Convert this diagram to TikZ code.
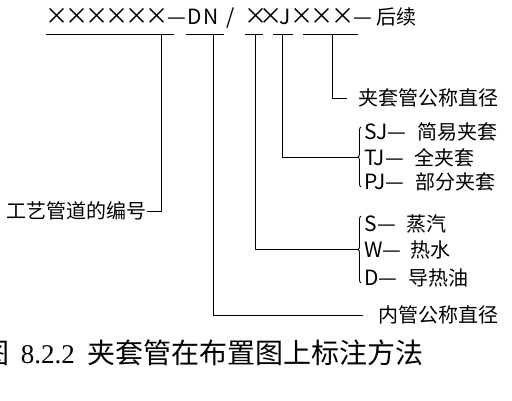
\documentclass[tikz,border=0pt]{standalone}
\usepackage{fontspec}
\setmainfont{Liberation Serif}
\newfontfamily\cjk{Noto Sans CJK SC}
\usetikzlibrary{decorations.pathreplacing}
\newcommand{\cb}[2]{\makebox[#1pt][c]{#2}}
\newcommand{\xx}{\scalebox{1.1}{×}}
\newcommand{\lat}[1]{{\fontsize{21}{21}\selectfont #1}}
\tikzset{
  lbl/.style={font=\cjk\fontsize{20}{20}\selectfont, inner sep=0pt},
  captionstyle/.style={font=\cjk\fontsize{28}{28}\selectfont, inner sep=0pt},
  ln/.style={line width=0.9pt, black},
  brc/.style={ln, decorate, decoration={brace, amplitude=3pt}},
}
\begin{document}
\begin{tikzpicture}[x=1pt,y=-1pt]
\clip (0,0) rectangle (512,400);
\fill[white] (0,0) rectangle (512,400);
% top code line
\node[lbl, anchor=base west, font=\cjk\fontsize{21}{21}\selectfont] (code) at (47,24)
 {\cb{20}{\xx}\cb{20}{\xx}\cb{20}{\xx}\cb{20}{\xx}\cb{20}{\xx}\cb{20}{\xx}\cb{20}{—}\cb{16}{D}\cb{16}{N}\cb{23}{/}\cb{6}{}\cb{15}{\xx}\cb{15}{\xx}\cb{14}{J}\cb{20}{\xx}\cb{20}{\xx}\cb{21}{\xx}\cb{20}{—}\hspace{3pt}{\fontsize{20}{20}\selectfont 后续}};
% underlines
\draw[ln] (46,34) -- (174,34);
\draw[ln] (186,34) -- (224,34);
\draw[ln] (245,34) -- (263,34);
\draw[ln] (273,34) -- (293,34);
\draw[ln] (303,34) -- (358,34);
\coordinate (u1) at (161,34);
\coordinate (u2) at (213,34);
\coordinate (u3) at (255,34);
\coordinate (u4) at (282,34);
\coordinate (u5) at (332,34);
% labels
\node[lbl, anchor=east] (gy) at (147,211) {工艺管道的编号};
\node[lbl, anchor=west] (jt) at (358,98) {夹套管公称直径};
\node[lbl, anchor=west] (nei) at (378,315) {内管公称直径};
\coordinate (neiend) at (363,315);
\coordinate (jtend) at (347,98);
% braces
\draw[brc] (361,187) -- (361,127);
\draw[brc] (361,283) -- (361,216);
\coordinate (b1tip) at (358,157);
\coordinate (b2tip) at (358,249.5);
\node[lbl, anchor=west] (sj) at (364,132) {\lat{SJ—}\hspace{11pt}简易夹套};
\node[lbl, anchor=west] (tj) at (364,158) {\lat{TJ—}\hspace{11pt}全夹套};
\node[lbl, anchor=west] (pj) at (364,182) {\lat{PJ—}\hspace{11pt}部分夹套};
\node[lbl, anchor=west] (s) at (364,224) {\lat{S—}\hspace{11pt}蒸汽};
\node[lbl, anchor=west] (w) at (364,250) {\lat{W—}\hspace{9pt}热水};
\node[lbl, anchor=west] (d) at (364,278) {\lat{D—}\hspace{11pt}导热油};
% connectors
\draw[ln] (u1) |- (gy.east);
\draw[ln] (u2) |- (neiend);
\draw[ln] (u3) |- (b2tip);
\draw[ln] (u4) |- (b1tip);
\draw[ln] (u5) |- (jtend);
% caption
\node[captionstyle, anchor=east] (caption) at (424,353) {图\hspace{11pt}{\rmfamily\fontsize{27}{27}\selectfont 8.2.2}\hspace{13pt}夹套管在布置图上标注方法};
\end{tikzpicture}
\end{document}
